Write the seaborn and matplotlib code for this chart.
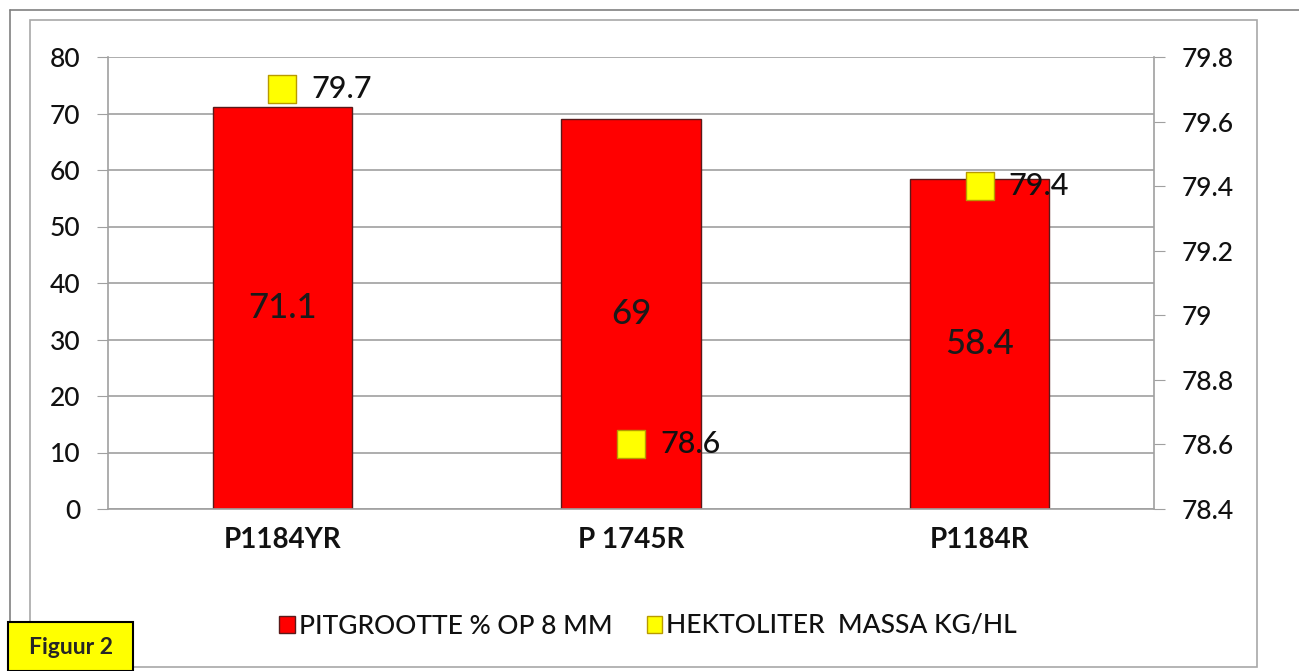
import matplotlib
matplotlib.use("Agg")
import matplotlib.pyplot as plt
import seaborn as sns
import pandas as pd
from matplotlib.patches import Rectangle
from matplotlib.lines import Line2D

categories = ["P1184YR", "P 1745R", "P1184R"]
pitgrootte = [71.1, 69, 58.4]
hektoliter = [79.7, 78.6, 79.4]
left_ticks = [0, 10, 20, 30, 40, 50, 60, 70, 80]
right_ticks = [78.4, 78.6, 78.8, 79.0, 79.2, 79.4, 79.6, 79.8]
right_tick_labels = ["78.4", "78.6", "78.8", "79", "79.2", "79.4", "79.6", "79.8"]
legend_labels = ["PITGROOTTE % OP 8 MM", "HEKTOLITER  MASSA KG/HL"]

sns.set_style("white")
plt.rcParams['font.family'] = ['Lato', 'DejaVu Sans']
plt.rcParams['font.weight'] = 'medium'

df = pd.DataFrame({"cat": categories, "pit": pitgrootte, "hl": hektoliter})

W, H = 1299, 671
fig = plt.figure(figsize=(W / 100, H / 100), dpi=100)
ax = fig.add_axes([108 / W, 1 - 509 / H, (1154 - 108) / W, (509 - 57) / H])

sns.barplot(data=df, x="cat", y="pit", color="#FF0000", width=0.4,
            edgecolor="#5a1a1a", linewidth=1.0, saturation=1, ax=ax, zorder=2)
ax.set_ylim(0, 80)
ax.set_xlim(-0.5, 2.5)
ax.set_yticks(left_ticks)
ax.set_yticklabels([str(t) for t in left_ticks], fontsize=19, color="#111111", fontweight="medium")
ax.yaxis.grid(True, color="#a0a0a0", linewidth=1.2, zorder=0)
ax.set_axisbelow(True)
ax.set_xlabel("")
ax.set_ylabel("")
ax.set_xticks([0, 1, 2])
ax.set_xticklabels(categories, fontsize=20, fontweight="bold", color="#111111")
ax.tick_params(axis="x", length=0, pad=13)
ax.tick_params(axis="y", length=8, color="#a0a0a0", direction="out", pad=12)
for s in ["top", "right"]:
    ax.spines[s].set_visible(False)
for s in ["left", "bottom"]:
    ax.spines[s].set_color("#a0a0a0")
    ax.spines[s].set_linewidth(1.2)
ax.set_xticks([-0.5, 0.5, 1.5, 2.5], minor=True)
ax.tick_params(axis="x", which="minor", length=8, color="#a0a0a0")

for i, v in enumerate(pitgrootte):
    ax.text(i, v / 2, f"{v:g}", ha="center", va="center", fontsize=25, color="#1a1a1a",
            fontweight="medium", zorder=5)

ax2 = ax.twinx()
sns.scatterplot(data=df, x="cat", y="hl", marker="s", s=420, color="#FFFF00",
                edgecolor="#b89a00", linewidth=1.0, ax=ax2, zorder=4, legend=False)
ax2.set_ylim(78.4, 79.8)
ax2.set_xlim(-0.5, 2.5)
ax2.set_yticks(right_ticks)
ax2.set_yticklabels(right_tick_labels, fontsize=19, color="#111111", fontweight="medium")
ax2.set_ylabel("")
ax2.tick_params(axis="y", length=8, color="#a0a0a0", direction="out", pad=12)
for s in ["top", "left", "bottom"]:
    ax2.spines[s].set_visible(False)
ax2.spines["right"].set_color("#a0a0a0")
ax2.spines["right"].set_linewidth(1.2)
for i, v in enumerate(hektoliter):
    ax2.annotate(f"{v:g}", (i, v), xytext=(21, 0), textcoords="offset points",
                 ha="left", va="center", fontsize=22, color="#111111",
                 fontweight="medium", zorder=6)

handles = [
    Rectangle((0, 0), 1, 1, facecolor="#FF0000", edgecolor="#5a1a1a"),
    Rectangle((0, 0), 1, 1, facecolor="#FFFF00", edgecolor="#b89a00"),
]
leg = fig.legend(handles, legend_labels, loc="center", bbox_to_anchor=(648 / W, 1 - 626 / H),
                 ncol=2, frameon=False, fontsize=19, handlelength=0.6, handleheight=0.6,
                 handletextpad=0.15, columnspacing=1.3, labelcolor="#111111")
for t in leg.get_texts():
    t.set_fontweight("medium")

# outer frames
fig.add_artist(Line2D([10 / W, 1], [1 - 10 / H, 1 - 10 / H], transform=fig.transFigure, color="#808080", lw=1.2))
fig.add_artist(Line2D([10 / W, 10 / W], [0, 1 - 10 / H], transform=fig.transFigure, color="#808080", lw=1.2))
fig.add_artist(Rectangle((30 / W, 1 - 667 / H), (1257 - 30) / W, (667 - 20) / H,
                         transform=fig.transFigure, fill=False, edgecolor="#a8a8a8", lw=1.2))

# Figuur 2 label box
fig.add_artist(Rectangle((8 / W, 0), (133 - 8) / W, (671 - 622) / H, transform=fig.transFigure,
                         facecolor="#FFFF00", edgecolor="black", lw=1.5, zorder=10))
fig.text(71 / W, 1 - 647 / H, "Figuur 2", ha="center", va="center", fontsize=16.5,
         fontweight="bold", zorder=11)

fig.savefig("out.png", dpi=100)
